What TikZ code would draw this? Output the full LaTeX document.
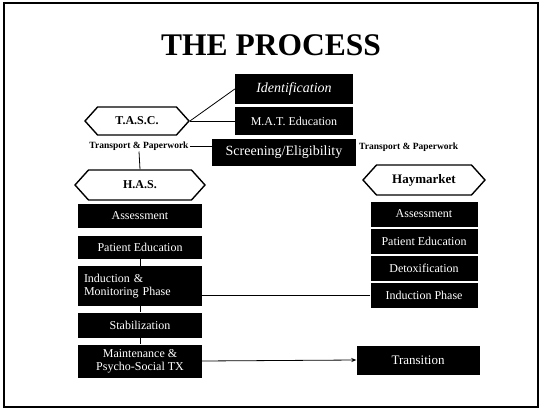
\documentclass[tikz,border=0pt]{standalone}
\usepackage{fontspec}
\setmainfont{Liberation Serif}
\usetikzlibrary{shapes.symbols,arrows.meta}
\tikzset{
  blk/.style={fill=black,text=white,inner sep=0pt,align=center,font=\fontsize{12}{13}\selectfont},
  hexa/.style={draw=black,line width=1.4pt,fill=white,shape=signal,signal to=west and east,signal pointer angle=96,inner sep=0pt,font=\bfseries\fontsize{12}{13}\selectfont},
  tp/.style={inner sep=1pt,font=\bfseries\fontsize{9.5}{10}\selectfont},
  conn/.style={draw=black,line width=0.8pt},
}
\begin{document}
\begin{tikzpicture}[x=1pt,y=-1pt]
\useasboundingbox (0,0) rectangle (542,410);
\draw[line width=1.6pt] (4,3) rectangle (538,407);
\node[font=\bfseries\fontsize{31.5}{33}\selectfont] (title) at (271,45) {THE PROCESS};
% top cluster
\node[blk,minimum width=118pt,minimum height=30pt,font=\itshape\fontsize{14}{15}\selectfont] (ident) at (294,89) {Identification};
\node[blk,minimum width=118pt,minimum height=28pt] (mat) at (294,121) {M.A.T. Education};
\node[blk,minimum width=144pt,minimum height=27pt,font=\fontsize{14}{15}\selectfont] (screen) at (284,152) {Screening/Eligibility};
\node[hexa,minimum width=104pt,minimum height=28pt] (tasc) at (137,121) {T.A.S.C.};
\node[tp] (tp1) at (139,146) {Transport \& Paperwork};
\node[tp,anchor=west] (tp2) at (358,147) {Transport \& Paperwork};
\node[hexa,minimum width=130pt,minimum height=30pt] (has) at (140,185) {H.A.S.};
\node[hexa,minimum width=122pt,minimum height=30pt,font=\bfseries\fontsize{13}{14}\selectfont] (hay) at (424,180) {Haymarket};
% left column
\node[blk,minimum width=124pt,minimum height=24pt] (lassess) at (140,216) {Assessment};
\node[blk,minimum width=124pt,minimum height=23pt] (lpated) at (140,247) {Patient Education};
\node[blk,minimum width=124pt,minimum height=40pt,align=left,text width=112pt] (indmon) at (140,286) {Induction \&\\Monitoring Phase};
\node[blk,minimum width=124pt,minimum height=25pt] (stab) at (140,325) {Stabilization};
\node[blk,minimum width=124pt,minimum height=33pt] (maint) at (140,361) {Maintenance \&\\Psycho-Social TX};
% right column
\node[blk,minimum width=107pt,minimum height=25pt] (rassess) at (424,214) {Assessment};
\node[blk,minimum width=107pt,minimum height=25pt] (rpated) at (424,241) {Patient Education};
\node[blk,minimum width=107pt,minimum height=25pt] (detox) at (424,268) {Detoxification};
\node[blk,minimum width=107pt,minimum height=25pt] (indph) at (424,295) {Induction Phase};
\node[blk,minimum width=123pt,minimum height=29pt,font=\fontsize{13}{14}\selectfont] (trans) at (418,360) {Transition};
% connectors
\draw[conn] (tasc.east) -- (ident.west);
\draw[conn] (tasc.east) -- (mat.west);
\draw[conn] (tp1.east) -- (tp1.east -| screen.west);
\draw[conn] (tp1.south) -- (has.north);
\draw[conn] (lpated.south) -- (indmon.north);
\draw[conn] (indmon.south) -- (stab.north);
\draw[conn] (stab.south) -- (maint.north);
\draw[conn] (indph.west) -- (indph.west -| indmon.east);
\draw[conn,-{Stealth[length=5pt,width=4pt]}] (maint.east) -- (trans.west);
\end{tikzpicture}
\end{document}
